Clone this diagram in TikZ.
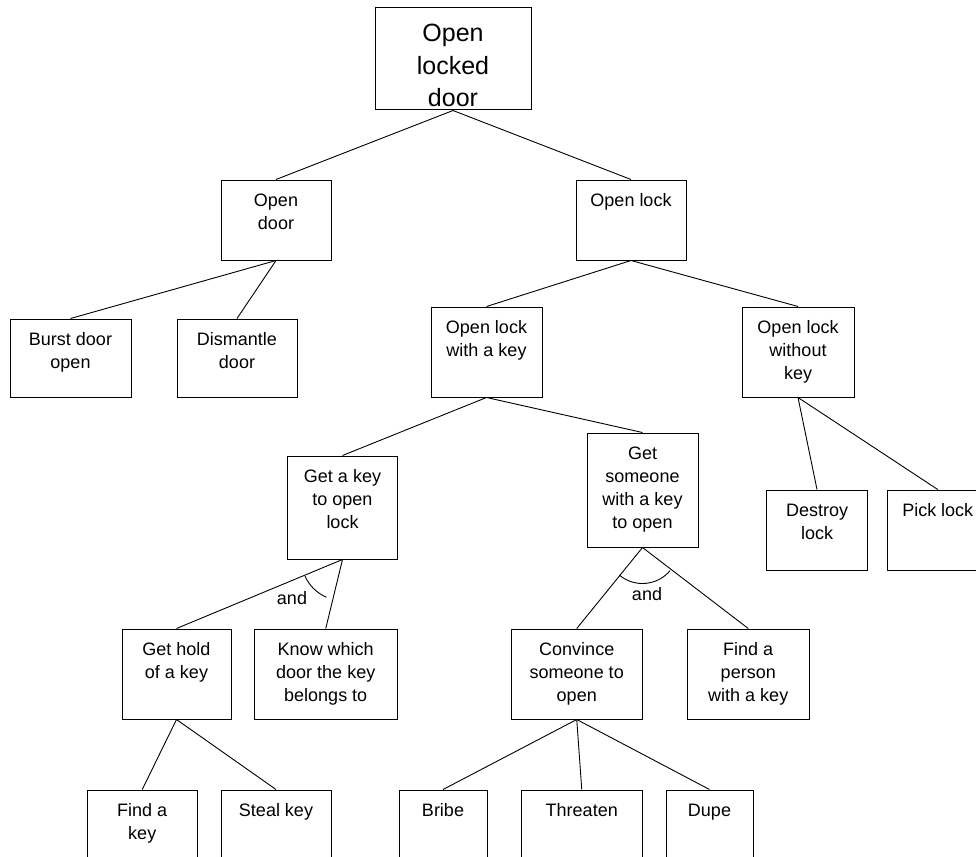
\documentclass[tikz,border=0pt]{standalone}
\usepackage{fontspec}
\setmainfont{Liberation Sans}
\usetikzlibrary{calc}

% box text: width, height, first-baseline depth, lines (top aligned, centred)
\newcommand\boxlines[4]{\parbox[c][#2][t]{#1}{\centering\rule{0pt}{#3}#4}}
\newcommand\smallbox[3]{\boxlines{#1}{#2}{26.5pt}{#3}}

\begin{document}
\begin{tikzpicture}[x=1pt,y=-1pt,
  goal/.style={draw=black,line width=1pt,inner sep=0pt,fill=white,
    font=\fontsize{18}{23}\selectfont},
  topgoal/.style={goal,font=\fontsize{25}{32.5}\selectfont},
  link/.style={draw=black,line width=0.9pt},
  andarc/.style={draw=black,line width=0.9pt},
  andtext/.style={font=\fontsize{18}{22}\selectfont,inner sep=0pt}]
\useasboundingbox (0,0) rectangle (976,856);
\clip (0,0) rectangle (976,856);
\fill[white] (0,0) rectangle (976,856);

% goal boxes
\node[topgoal] (root) at (453,59) {\boxlines{156pt}{102pt}{34pt}{Open\\locked\\door}};

\node[goal] (odoor) at (276,220) {\smallbox{110pt}{80pt}{Open\\door}};
\node[goal] (olock) at (631,220) {\smallbox{110pt}{80pt}{Open lock}};

\node[goal] (burst) at (70.5,358) {\smallbox{121pt}{78pt}{Burst door\\open}};
\node[goal] (dism)  at (237,358)  {\smallbox{120pt}{78pt}{Dismantle\\door}};

\node[goal] (olwk) at (486.5,352) {\smallbox{111pt}{90pt}{Open lock\\with a key}};
\node[goal] (olwo) at (798,352)   {\smallbox{112pt}{90pt}{Open lock\\without\\key}};

\node[goal] (getkey)  at (342.5,507.5) {\smallbox{110pt}{103pt}{Get a key\\to open\\lock}};
\node[goal] (getsome) at (642.5,490)   {\smallbox{111pt}{114pt}{Get\\someone\\with a key\\to open}};

\node[goal] (destroy) at (817,530)    {\smallbox{101.5pt}{80pt}{Destroy\\lock}};
\node[goal] (pick)    at (937.75,530) {\smallbox{100.5pt}{80pt}{Pick lock}};

\node[goal] (hold)     at (176.5,674)  {\smallbox{109pt}{90pt}{Get hold\\of a key}};
\node[goal] (know)     at (325.75,674) {\smallbox{143.5pt}{90pt}{Know which\\door the key\\belongs to}};
\node[goal] (convince) at (576.75,674) {\smallbox{131.5pt}{90pt}{Convince\\someone to\\open}};
\node[goal] (person)   at (748.25,674) {\smallbox{121.5pt}{90pt}{Find a\\person\\with a key}};

\node[goal] (findkey)  at (142.25,830) {\smallbox{109.5pt}{80pt}{Find a\\key}};
\node[goal] (steal)    at (276,830)    {\smallbox{110pt}{80pt}{Steal key}};
\node[goal] (bribe)    at (443,830)    {\smallbox{88pt}{80pt}{Bribe}};
\node[goal] (threaten) at (581.75,830) {\smallbox{121.5pt}{80pt}{Threaten}};
\node[goal] (dupe)     at (709.5,830)  {\smallbox{87pt}{80pt}{Dupe}};

% tree links
\draw[link] (root.south) -- (odoor.north);
\draw[link] (root.south) -- (olock.north);
\draw[link] (odoor.south) -- (burst.north);
\draw[link] (odoor.south) -- (dism.north);
\draw[link] (olock.south) -- (olwk.north);
\draw[link] (olock.south) -- (olwo.north);
\draw[link] (olwk.south) -- (getkey.north);
\draw[link] (olwk.south) -- (getsome.north);
\draw[link] (olwo.south) -- (destroy.north);
\draw[link] (olwo.south) -- (pick.north);
\draw[link] (getkey.south) -- (hold.north);
\draw[link] (getkey.south) -- (know.north);
\draw[link] (getsome.south) -- (convince.north);
\draw[link] (getsome.south) -- (person.north);
\draw[link] (hold.south) -- (findkey.north);
\draw[link] (hold.south) -- (steal.north);
\draw[link] (convince.south) -- (bribe.north);
\draw[link] (convince.south) -- (threaten.north);
\draw[link] (convince.south) -- (dupe.north);

% AND markers
\draw[andarc] ($(getkey.south)+(113:41)$) arc[start angle=113,end angle=156,radius=41];
\node[andtext] (and1) at (292,598) {and};
\draw[andarc] ($(getsome.south)+(40:36)$) arc[start angle=40,end angle=130,radius=36];
\node[andtext] (and2) at (647,594) {and};
\end{tikzpicture}
\end{document}
